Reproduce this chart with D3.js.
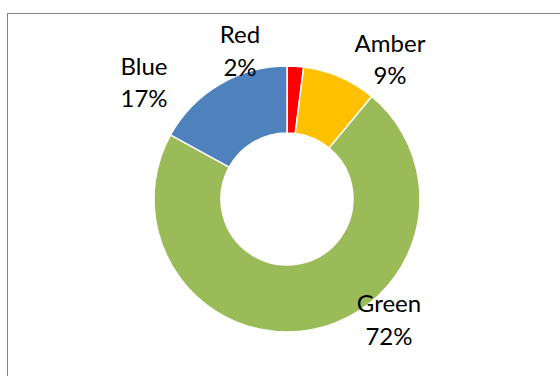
<!DOCTYPE html>
<html>
<head>
<meta charset="utf-8">
<script src="https://cdn.jsdelivr.net/npm/d3@7"></script>
<style>
  html, body { margin: 0; padding: 0; background: #ffffff; }
  svg { display: block; }
  text { font-family: Lato, "Open Sans", sans-serif; fill: #000000; }
</style>
</head>
<body>
<svg id="chart" width="560" height="376"></svg>
<script>
const categories = ["Red", "Amber", "Green", "Blue"];
const values = [2, 9, 72, 17];
const percentLabels = ["2%", "9%", "72%", "17%"];
const colors = ["#FF0000", "#FFC000", "#9BBB59", "#4F81BD"];

const W = 560, H = 376;
const cx = 287, cy = 199;
const outerR = 133, innerR = 66;

// label placement (offset of label centre from chart centre, baselines of two lines)
const labelLayout = {
  Red:   { dx: -47, y1: -156, y2: -123 },
  Amber: { dx: 103, y1: -147, y2: -115 },
  Green: { dx: 102, y1: 113, y2: 146 },
  Blue:  { dx: -143, y1: -124, y2: -92 }
};

const svg = d3.select("#chart");

// chart frame
svg.append("rect")
  .attr("x", 7.5).attr("y", 13.5)
  .attr("width", 600).attr("height", 400)
  .attr("fill", "#ffffff")
  .attr("stroke", "#868686")
  .attr("stroke-width", 1);

const data = categories.map((c, i) => ({ name: c, value: values[i], label: percentLabels[i], color: colors[i] }));

const pie = d3.pie().value(d => d.value).sort(null);
const arc = d3.arc().innerRadius(innerR).outerRadius(outerR);

const g = svg.append("g").attr("transform", `translate(${cx},${cy})`);

g.selectAll("path.slice")
  .data(pie(data))
  .join("path")
  .attr("class", "slice")
  .attr("d", arc)
  .attr("fill", d => d.data.color)
  .attr("stroke", "#ffffff")
  .attr("stroke-width", 1.5)
  .attr("stroke-linejoin", "round");

const labels = g.selectAll("g.label")
  .data(pie(data))
  .join("g")
  .attr("class", "label");

labels.append("text")
  .attr("x", d => labelLayout[d.data.name].dx)
  .attr("y", d => labelLayout[d.data.name].y1)
  .attr("text-anchor", "middle")
  .attr("font-size", 24)
  .text(d => d.data.name);

labels.append("text")
  .attr("x", d => labelLayout[d.data.name].dx)
  .attr("y", d => labelLayout[d.data.name].y2)
  .attr("text-anchor", "middle")
  .attr("font-size", 24)
  .text(d => d.data.label);
</script>
</body>
</html>
